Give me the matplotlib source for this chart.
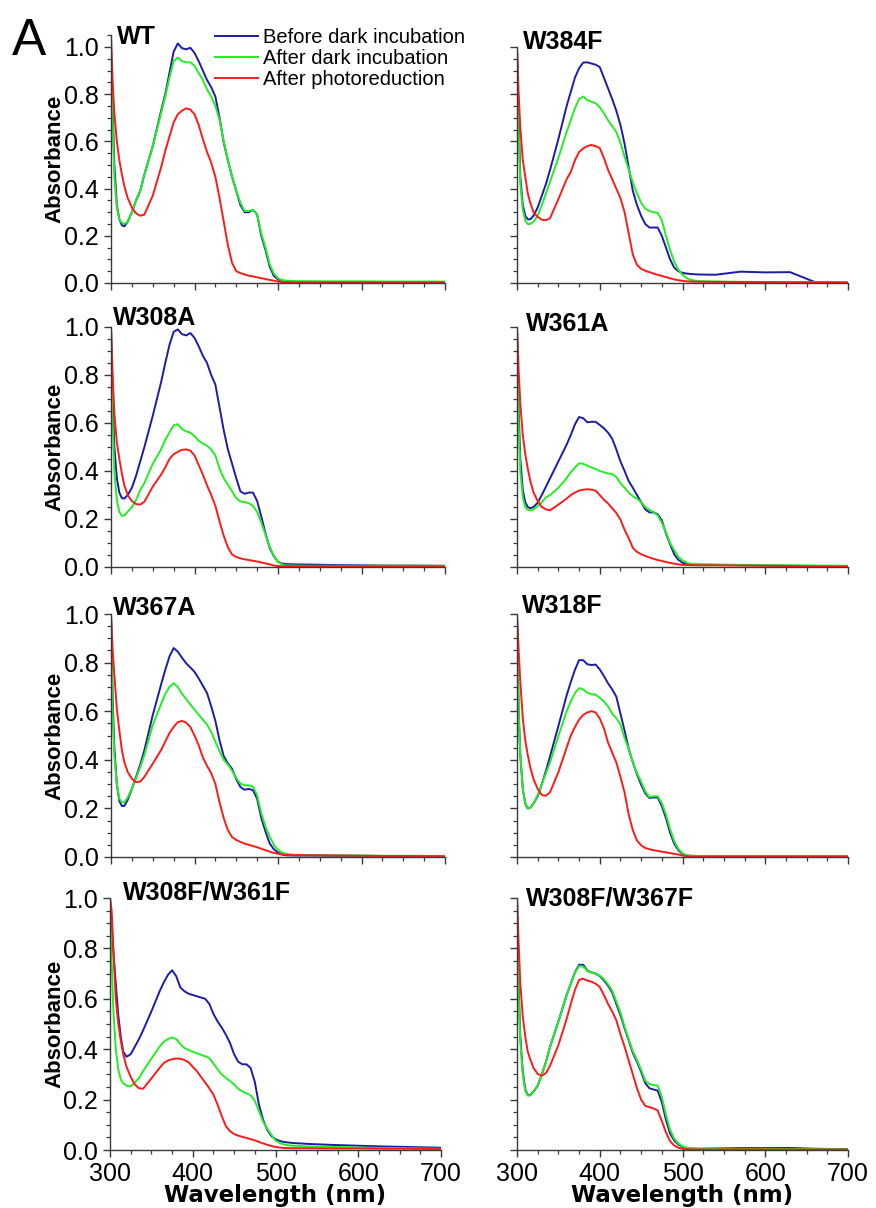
import matplotlib
matplotlib.use("Agg")
import matplotlib.pyplot as plt
from matplotlib.ticker import MultipleLocator, NullFormatter

plt.rcParams['font.family'] = ['Liberation Sans', 'DejaVu Sans']

# ---------------- data ----------------
wavelength = [300, 302, 304, 307, 310, 313, 316, 320, 325, 330, 335, 340,
              350, 360, 365, 370, 375, 380, 385, 390, 395, 400,
              405, 410, 415, 420, 425, 430, 435, 440, 445, 450, 455, 460, 465, 470,
              475, 480, 485, 490, 495, 500,
              505, 510, 520, 540, 570, 600, 630, 660, 700]

series_labels = ["Before dark incubation", "After dark incubation", "After photoreduction"]
panel_titles = ["WT", "W384F", "W308A", "W361A", "W367A", "W318F", "W308F/W361F", "W308F/W367F"]

WT_before = [1.00, 0.75, 0.50, 0.33, 0.27, 0.245, 0.24, 0.26, 0.30, 0.35, 0.39, 0.46,
             0.58, 0.73, 0.80, 0.89, 0.98, 1.015, 0.995, 0.99, 0.997, 0.975,
             0.94, 0.90, 0.86, 0.83, 0.79, 0.70, 0.595, 0.52, 0.45, 0.39, 0.33, 0.30, 0.30, 0.31, 0.29, 0.20, 0.14, 0.07, 0.03, 0.015,
             0.01, 0.006, 0.005, 0.005, 0.004, 0.004, 0.004, 0.004, 0.004]
WT_dark = [0.98, 0.70, 0.45, 0.32, 0.27, 0.255, 0.25, 0.26, 0.30, 0.35, 0.39, 0.46,
           0.58, 0.72, 0.79, 0.87, 0.94, 0.955, 0.94, 0.935, 0.935, 0.92,
           0.89, 0.86, 0.82, 0.79, 0.75, 0.69, 0.60, 0.52, 0.45, 0.39, 0.34, 0.305, 0.305, 0.31, 0.29, 0.21, 0.15, 0.08, 0.04, 0.02,
           0.012, 0.01, 0.008, 0.007, 0.007, 0.007, 0.006, 0.006, 0.006]
WT_photo = [1.05, 0.85, 0.72, 0.60, 0.52, 0.46, 0.41, 0.36, 0.32, 0.295, 0.285, 0.29,
            0.37, 0.49, 0.56, 0.62, 0.68, 0.715, 0.73, 0.74, 0.735, 0.715,
            0.67, 0.61, 0.555, 0.51, 0.45, 0.36, 0.26, 0.16, 0.085, 0.05, 0.042, 0.036, 0.031, 0.028, 0.024, 0.02, 0.017, 0.013, 0.01, 0.006,
            0.004, 0.003, 0.003, 0.003, 0.003, 0.003, 0.003, 0.003, 0.003]

W384F_before = [1.00, 0.70, 0.45, 0.33, 0.285, 0.27, 0.27, 0.285, 0.32, 0.37, 0.42, 0.48,
                0.61, 0.75, 0.81, 0.87, 0.91, 0.934, 0.935, 0.93, 0.925, 0.915,
                0.87, 0.825, 0.78, 0.73, 0.67, 0.59, 0.49, 0.39, 0.33, 0.285, 0.25, 0.235, 0.235, 0.235, 0.20, 0.15, 0.10, 0.065, 0.05, 0.043,
                0.04, 0.038, 0.036, 0.035, 0.048, 0.045, 0.046, 0.004, 0.0]
W384F_dark = [0.97, 0.65, 0.42, 0.31, 0.265, 0.25, 0.25, 0.26, 0.285, 0.33, 0.38, 0.43,
              0.53, 0.64, 0.69, 0.74, 0.78, 0.79, 0.775, 0.768, 0.762, 0.745,
              0.72, 0.69, 0.665, 0.64, 0.595, 0.535, 0.48, 0.425, 0.38, 0.34, 0.315, 0.305, 0.30, 0.297, 0.266, 0.20, 0.14, 0.09, 0.056, 0.035,
              0.021, 0.013, 0.008, 0.006, 0.005, 0.004, 0.004, 0.004, 0.004]
W384F_photo = [1.00, 0.80, 0.66, 0.52, 0.45, 0.38, 0.34, 0.30, 0.28, 0.268, 0.266, 0.275,
               0.355, 0.44, 0.47, 0.52, 0.555, 0.57, 0.58, 0.585, 0.58, 0.572,
               0.53, 0.48, 0.44, 0.40, 0.36, 0.30, 0.21, 0.12, 0.077, 0.06, 0.052, 0.046, 0.04, 0.035, 0.03, 0.025, 0.02, 0.015, 0.012, 0.009,
               0.007, 0.006, 0.005, 0.005, 0.004, 0.004, 0.003, 0.003, 0.002]

W308A_before = [1.00, 0.70, 0.50, 0.37, 0.31, 0.287, 0.285, 0.30, 0.33, 0.38, 0.44, 0.50,
                0.63, 0.77, 0.85, 0.925, 0.98, 0.99, 0.97, 0.965, 0.975, 0.955,
                0.92, 0.88, 0.85, 0.80, 0.76, 0.665, 0.57, 0.49, 0.43, 0.37, 0.315, 0.305, 0.31, 0.31, 0.275, 0.21, 0.14, 0.08, 0.045, 0.022,
                0.014, 0.012, 0.011, 0.01, 0.008, 0.007, 0.006, 0.006, 0.005]
W308A_dark = [0.97, 0.60, 0.40, 0.28, 0.23, 0.213, 0.215, 0.23, 0.25, 0.28, 0.32, 0.35,
              0.43, 0.49, 0.53, 0.56, 0.59, 0.595, 0.575, 0.565, 0.56, 0.545,
              0.525, 0.515, 0.505, 0.49, 0.465, 0.41, 0.37, 0.343, 0.315, 0.287, 0.273, 0.27, 0.266, 0.255, 0.23, 0.185, 0.135, 0.084, 0.045, 0.022,
              0.01, 0.007, 0.006, 0.005, 0.005, 0.005, 0.005, 0.005, 0.005]
W308A_photo = [1.00, 0.80, 0.64, 0.52, 0.45, 0.39, 0.34, 0.30, 0.275, 0.262, 0.26, 0.272,
               0.335, 0.385, 0.415, 0.45, 0.47, 0.48, 0.488, 0.49, 0.485, 0.465,
               0.425, 0.385, 0.34, 0.30, 0.255, 0.19, 0.13, 0.082, 0.052, 0.042, 0.036, 0.032, 0.029, 0.026, 0.023, 0.019, 0.015, 0.011, 0.006, 0.004,
               0.003, 0.003, 0.003, 0.003, 0.003, 0.003, 0.003, 0.003, 0.003]

W361A_before = [1.00, 0.65, 0.45, 0.32, 0.27, 0.25, 0.245, 0.25, 0.268, 0.30, 0.335, 0.37,
                0.44, 0.51, 0.55, 0.594, 0.625, 0.62, 0.603, 0.605, 0.605, 0.592,
                0.578, 0.56, 0.535, 0.49, 0.44, 0.40, 0.358, 0.33, 0.30, 0.27, 0.24, 0.228, 0.227, 0.22, 0.195, 0.14, 0.095, 0.053, 0.03, 0.018,
                0.013, 0.011, 0.01, 0.009, 0.008, 0.007, 0.005, 0.004, 0.003]
W361A_dark = [0.98, 0.60, 0.40, 0.29, 0.25, 0.238, 0.236, 0.24, 0.254, 0.27, 0.29, 0.30,
              0.33, 0.37, 0.395, 0.414, 0.432, 0.43, 0.422, 0.415, 0.408, 0.40,
              0.395, 0.39, 0.387, 0.375, 0.35, 0.33, 0.31, 0.295, 0.285, 0.27, 0.25, 0.238, 0.228, 0.215, 0.185, 0.145, 0.10, 0.07, 0.042, 0.028,
              0.018, 0.013, 0.011, 0.01, 0.009, 0.008, 0.007, 0.006, 0.005]
W361A_photo = [1.00, 0.82, 0.68, 0.55, 0.47, 0.41, 0.36, 0.31, 0.275, 0.25, 0.24, 0.236,
               0.26, 0.285, 0.30, 0.31, 0.318, 0.322, 0.324, 0.322, 0.318, 0.30,
               0.28, 0.265, 0.245, 0.225, 0.198, 0.155, 0.12, 0.08, 0.063, 0.053, 0.046, 0.04, 0.034, 0.029, 0.025, 0.021, 0.017, 0.014, 0.011, 0.009,
               0.008, 0.008, 0.007, 0.007, 0.006, 0.005, 0.004, 0.003, 0.002]

W367A_before = [1.00, 0.65, 0.45, 0.30, 0.23, 0.21, 0.21, 0.235, 0.28, 0.33, 0.38, 0.44,
                0.584, 0.71, 0.77, 0.825, 0.86, 0.845, 0.82, 0.797, 0.78, 0.762,
                0.735, 0.705, 0.675, 0.62, 0.56, 0.48, 0.415, 0.385, 0.363, 0.32, 0.288, 0.277, 0.28, 0.275, 0.24, 0.16, 0.105, 0.056, 0.032, 0.018,
                0.01, 0.007, 0.006, 0.006, 0.005, 0.005, 0.004, 0.004, 0.003]
W367A_dark = [0.98, 0.60, 0.42, 0.30, 0.24, 0.225, 0.225, 0.245, 0.28, 0.325, 0.37, 0.42,
              0.543, 0.63, 0.67, 0.70, 0.715, 0.70, 0.672, 0.65, 0.628, 0.607,
              0.585, 0.565, 0.545, 0.515, 0.474, 0.435, 0.40, 0.38, 0.355, 0.325, 0.302, 0.295, 0.295, 0.29, 0.255, 0.18, 0.125, 0.085, 0.05, 0.029,
              0.018, 0.012, 0.009, 0.008, 0.007, 0.006, 0.005, 0.005, 0.004]
W367A_photo = [1.00, 0.85, 0.75, 0.61, 0.52, 0.44, 0.39, 0.35, 0.322, 0.308, 0.31, 0.33,
               0.384, 0.44, 0.475, 0.51, 0.535, 0.555, 0.56, 0.553, 0.535, 0.50,
               0.46, 0.41, 0.375, 0.345, 0.30, 0.225, 0.16, 0.11, 0.082, 0.07, 0.062, 0.055, 0.05, 0.045, 0.04, 0.034, 0.028, 0.022, 0.017, 0.013,
               0.01, 0.009, 0.008, 0.007, 0.006, 0.005, 0.004, 0.004, 0.003]

W318F_before = [1.00, 0.60, 0.42, 0.28, 0.22, 0.20, 0.202, 0.22, 0.25, 0.30, 0.355, 0.415,
                0.539, 0.665, 0.72, 0.77, 0.81, 0.81, 0.793, 0.79, 0.792, 0.772,
                0.745, 0.715, 0.69, 0.66, 0.59, 0.52, 0.445, 0.39, 0.34, 0.298, 0.262, 0.243, 0.245, 0.245, 0.21, 0.16, 0.10, 0.055, 0.028, 0.012,
                0.006, 0.005, 0.004, 0.004, 0.004, 0.004, 0.004, 0.004, 0.004]
W318F_dark = [0.98, 0.60, 0.42, 0.28, 0.22, 0.20, 0.202, 0.22, 0.255, 0.30, 0.345, 0.39,
              0.498, 0.60, 0.64, 0.674, 0.695, 0.69, 0.676, 0.67, 0.668, 0.655,
              0.64, 0.62, 0.59, 0.572, 0.545, 0.49, 0.445, 0.39, 0.345, 0.31, 0.27, 0.247, 0.25, 0.25, 0.222, 0.175, 0.115, 0.065, 0.033, 0.015,
              0.006, 0.005, 0.004, 0.004, 0.004, 0.004, 0.004, 0.004, 0.004]
W318F_photo = [1.00, 0.85, 0.72, 0.57, 0.48, 0.42, 0.37, 0.32, 0.28, 0.255, 0.252, 0.267,
               0.349, 0.45, 0.50, 0.535, 0.565, 0.585, 0.595, 0.60, 0.595, 0.57,
               0.53, 0.471, 0.43, 0.389, 0.33, 0.265, 0.175, 0.11, 0.068, 0.048, 0.037, 0.032, 0.028, 0.025, 0.022, 0.019, 0.016, 0.013, 0.01, 0.006,
               0.003, 0.002, 0.002, 0.002, 0.002, 0.002, 0.002, 0.002, 0.002]

W308F_W361F_before = [1.00, 0.90, 0.79, 0.66, 0.535, 0.45, 0.39, 0.37, 0.38, 0.41, 0.44, 0.475,
                      0.55, 0.63, 0.665, 0.695, 0.713, 0.69, 0.645, 0.63, 0.62, 0.615,
                      0.61, 0.605, 0.60, 0.58, 0.54, 0.51, 0.486, 0.458, 0.425, 0.38, 0.35, 0.34, 0.34, 0.325, 0.27, 0.18, 0.12, 0.08, 0.055, 0.043,
                      0.036, 0.032, 0.028, 0.024, 0.02, 0.017, 0.014, 0.012, 0.009]
W308F_W361F_dark = [0.98, 0.75, 0.56, 0.40, 0.32, 0.28, 0.265, 0.255, 0.252, 0.268, 0.285, 0.313,
                    0.363, 0.41, 0.43, 0.44, 0.447, 0.44, 0.42, 0.405, 0.397, 0.39,
                    0.384, 0.378, 0.372, 0.365, 0.343, 0.32, 0.30, 0.286, 0.274, 0.26, 0.243, 0.232, 0.225, 0.217, 0.195, 0.155, 0.112, 0.085, 0.06, 0.038,
                    0.028, 0.022, 0.017, 0.014, 0.012, 0.01, 0.008, 0.007, 0.005]
W308F_W361F_photo = [1.00, 0.95, 0.80, 0.60, 0.50, 0.435, 0.38, 0.33, 0.29, 0.26, 0.245, 0.243,
                     0.284, 0.326, 0.345, 0.355, 0.36, 0.363, 0.362, 0.357, 0.348, 0.33,
                     0.313, 0.29, 0.268, 0.245, 0.22, 0.18, 0.135, 0.095, 0.075, 0.063, 0.057, 0.052, 0.048, 0.043, 0.038, 0.032, 0.026, 0.021, 0.016, 0.012,
                     0.01, 0.008, 0.007, 0.007, 0.006, 0.006, 0.005, 0.005, 0.004]

W308F_W367F_before = [1.00, 0.65, 0.45, 0.31, 0.24, 0.218, 0.218, 0.232, 0.255, 0.30, 0.35, 0.41,
                      0.51, 0.615, 0.66, 0.705, 0.735, 0.735, 0.712, 0.705, 0.70, 0.69,
                      0.673, 0.652, 0.625, 0.58, 0.535, 0.483, 0.435, 0.385, 0.35, 0.31, 0.265, 0.245, 0.24, 0.236, 0.19, 0.12, 0.065, 0.038, 0.022, 0.013,
                      0.008, 0.006, 0.005, 0.006, 0.008, 0.008, 0.008, 0.005, 0.003]
W308F_W367F_dark = [0.98, 0.62, 0.43, 0.30, 0.235, 0.216, 0.216, 0.23, 0.256, 0.30, 0.35, 0.41,
                    0.51, 0.615, 0.66, 0.703, 0.73, 0.728, 0.71, 0.705, 0.70, 0.692,
                    0.678, 0.658, 0.632, 0.59, 0.545, 0.49, 0.44, 0.392, 0.357, 0.318, 0.275, 0.262, 0.258, 0.256, 0.21, 0.14, 0.08, 0.045, 0.026, 0.015,
                    0.009, 0.006, 0.005, 0.005, 0.005, 0.005, 0.004, 0.004, 0.003]
W308F_W367F_photo = [1.00, 0.82, 0.66, 0.53, 0.45, 0.39, 0.36, 0.325, 0.302, 0.295, 0.305, 0.335,
                     0.416, 0.52, 0.58, 0.635, 0.675, 0.68, 0.672, 0.668, 0.66, 0.647,
                     0.615, 0.58, 0.55, 0.515, 0.46, 0.41, 0.355, 0.30, 0.245, 0.20, 0.175, 0.17, 0.165, 0.157, 0.115, 0.07, 0.035, 0.018, 0.009, 0.005,
                     0.003, 0.002, 0.002, 0.002, 0.002, 0.002, 0.002, 0.002, 0.002]

panel_data = [
    (WT_before, WT_dark, WT_photo),
    (W384F_before, W384F_dark, W384F_photo),
    (W308A_before, W308A_dark, W308A_photo),
    (W361A_before, W361A_dark, W361A_photo),
    (W367A_before, W367A_dark, W367A_photo),
    (W318F_before, W318F_dark, W318F_photo),
    (W308F_W361F_before, W308F_W361F_dark, W308F_W361F_photo),
    (W308F_W367F_before, W308F_W367F_dark, W308F_W367F_photo),
]
panel_ymax = [1.05, 1.0, 1.0, 1.0, 1.0, 1.0, 1.0, 1.0]

# ---------------- layout / style ----------------
colors = ["#1c1ca8", "#22ee22", "#ff1a1a"]
W, H = 876, 1208
fig = plt.figure(figsize=(W / 100, H / 100), dpi=100)

# pixel geometry
rows_px = [(283, 47), (567, 327), (857, 614), (1150, 898)]
cols_px = [(111, 445), (517, 848)]
title_px = [(117, 44), (523, 49), (113, 325), (526, 331),
            (113, 615), (522, 613), (123, 900), (526, 906)]

spine_col = "#3a3a3a"
axes = []
for i in range(8):
    r, c = divmod(i, 2)
    y0, y1 = rows_px[r]
    x0, x1 = cols_px[c]
    if r == 3 and c == 0:
        x0, x1 = 110, 441
    ymax = panel_ymax[i]
    ytop = y0 - ymax * (y0 - y1)
    ax = fig.add_axes([x0 / W, 1 - y0 / H, (x1 - x0) / W, (y0 - ytop) / H])
    axes.append(ax)
    b, d, p = panel_data[i]
    ax.plot(wavelength, b, color=colors[0], lw=1.4, label=series_labels[0])
    ax.plot(wavelength, d, color=colors[1], lw=1.4, label=series_labels[1])
    ax.plot(wavelength, p, color=colors[2], lw=1.4, label=series_labels[2])
    ax.set_xlim(300, 700)
    ax.set_ylim(0, ymax)
    for s in ["top", "right"]:
        ax.spines[s].set_visible(False)
    for s in ["left", "bottom"]:
        ax.spines[s].set_color(spine_col)
        ax.spines[s].set_linewidth(1.0)
    ax.xaxis.set_major_locator(MultipleLocator(100))
    ax.xaxis.set_minor_locator(MultipleLocator(25))
    ax.yaxis.set_major_locator(MultipleLocator(0.2))
    ax.yaxis.set_minor_locator(MultipleLocator(0.05))
    ax.tick_params(which="major", direction="out", length=5, width=1.0, color=spine_col,
                   labelsize=18, pad=3.5)
    ax.tick_params(which="minor", direction="out", length=3, width=0.9, color=spine_col)
    ax.yaxis.set_major_formatter(plt.FuncFormatter(lambda v, _: f"{v:.1f}"))
    if c == 1:
        ax.yaxis.set_major_formatter(NullFormatter())
    else:
        ax.set_ylabel("Absorbance", fontsize=16, fontweight="bold")
    if r < 3:
        ax.xaxis.set_major_formatter(NullFormatter())
    else:
        ax.set_xlabel("Wavelength (nm)", fontsize=16.5, fontweight="bold",
                      family="DejaVu Sans", labelpad=-1)
    tx, ty = title_px[i]
    fig.text(tx / W, 1 - ty / H, panel_titles[i], fontsize=18, fontweight="bold",
             ha="left", va="baseline")

# align y labels for left column (baseline side at ~64 px)
for i in (0, 2, 4, 6):
    x0 = 110 if i == 6 else 111
    x1 = 441 if i == 6 else 445
    axes[i].yaxis.set_label_coords((65 - x0) / (x1 - x0), 0.5)

# legend
h, l = axes[0].get_legend_handles_labels()
fig.legend(h, l, loc="upper left", bbox_to_anchor=(215 / W, 1 - 28 / H),
           frameon=False, fontsize=14.5, handlelength=2.15, handletextpad=0.25,
           labelspacing=0.1, borderpad=0, borderaxespad=0)

fig.text(12 / W, 1 - 55 / H, "A", fontsize=37, ha="left", va="baseline")

fig.savefig("out.png", dpi=100)
